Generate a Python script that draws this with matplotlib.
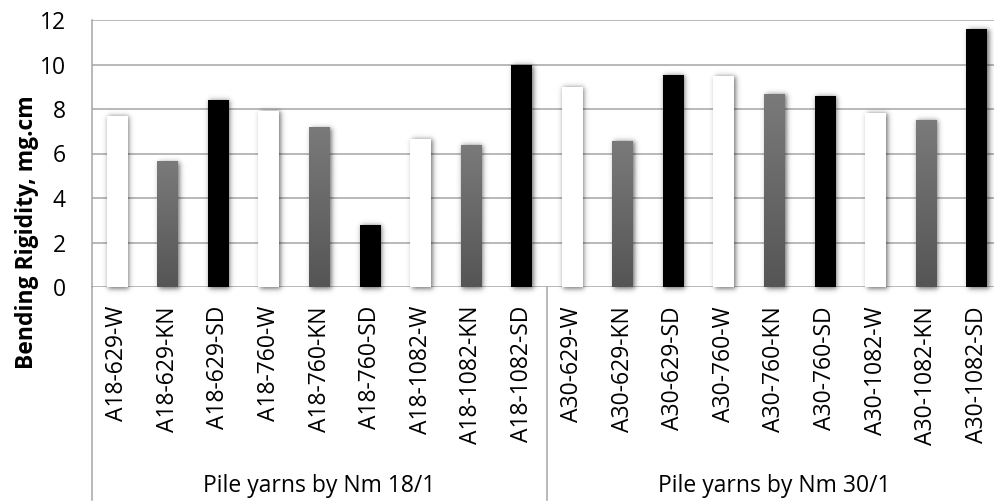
import numpy as np
import matplotlib
matplotlib.use("Agg")
import matplotlib.pyplot as plt
from matplotlib.patches import Rectangle
from matplotlib.colors import LinearSegmentedColormap
import matplotlib.transforms as mtrans

categories = ["A18-629-W", "A18-629-KN", "A18-629-SD",
              "A18-760-W", "A18-760-KN", "A18-760-SD",
              "A18-1082-W", "A18-1082-KN", "A18-1082-SD",
              "A30-629-W", "A30-629-KN", "A30-629-SD",
              "A30-760-W", "A30-760-KN", "A30-760-SD",
              "A30-1082-W", "A30-1082-KN", "A30-1082-SD"]
values = [7.7, 5.62, 8.4, 7.9, 7.15, 2.78, 6.65, 6.38, 10.0,
          8.97, 6.56, 9.51, 9.48, 8.67, 8.57, 7.8, 7.5, 11.6]
groups = ["Pile yarns by Nm 18/1", "Pile yarns by Nm 30/1"]
group_size = 9
y_ticks = [0, 2, 4, 6, 8, 10, 12]
y_label = "Bending Rigidity, mg.cm"

FONT = "Open Sans"
FS = 16.5
W, H = 994, 503
fig = plt.figure(figsize=(W / 100, H / 100), dpi=100)
left_px, right_px, top_px, bot_px = 92, 1002, 20, 287
ax = fig.add_axes([left_px / W, 1 - bot_px / H, (right_px - left_px) / W, (bot_px - top_px) / H])

n = len(categories)
px_x = n / (right_px - left_px)   # data units per pixel in x
px_y = 12 / (bot_px - top_px)

for s in ["top", "right", "bottom"]:
    ax.spines[s].set_visible(False)
ax.spines["left"].set_color("#a6a6a6")
ax.spines["left"].set_linewidth(1.1)
ax.set_yticks(y_ticks)
ax.set_yticklabels([str(t) for t in y_ticks], fontsize=FS, family=FONT)
ax.tick_params(axis="y", length=0, pad=19)
ax.set_xticks([])
ax.yaxis.grid(True, color="#a6a6a6", linewidth=1.1)
ax.set_axisbelow(True)

bw = 0.415
grad = np.linspace(0, 1, 256).reshape(-1, 1)
cmap = LinearSegmentedColormap.from_list("g", ["#555555", "#7a7a7a"])
blur = 3.0      # px
pad = 10        # px
for i, v in enumerate(values):
    kind = categories[i].split("-")[-1]
    x0 = i - bw / 2
    # soft blurred shadow, shifted right/down
    sx0 = x0 + 1.5 * px_x
    sx1 = x0 + bw + 1.5 * px_x
    sy0 = -2.5 * px_y
    sy1 = v - 1.0 * px_y
    ex0, ex1 = sx0 - pad * px_x, sx1 + pad * px_x
    ey0, ey1 = sy0 - pad * px_y, sy1 + pad * px_y
    xs = np.linspace(ex0, ex1, 80)
    ys = np.linspace(ey0, ey1, 400)
    fx = 0.5 * (np.tanh((xs - sx0) / (blur * px_x)) - np.tanh((xs - sx1) / (blur * px_x)))
    fy = 0.5 * (np.tanh((ys - sy0) / (blur * px_y)) - np.tanh((ys - sy1) / (blur * px_y)))
    alpha = 0.55 * np.outer(fy, fx)
    rgba = np.zeros((len(ys), len(xs), 4))
    rgba[..., 3] = alpha
    ax.imshow(rgba, extent=[ex0, ex1, ey0, ey1], origin="lower", aspect="auto",
              zorder=2, interpolation="bilinear", clip_on=False)
    if kind == "W":
        ax.add_patch(Rectangle((x0, 0), bw, v, facecolor="#ffffff", edgecolor="none", zorder=3))
    elif kind == "SD":
        ax.add_patch(Rectangle((x0, 0), bw, v, facecolor="#000000", edgecolor="none", zorder=3))
    else:
        ax.imshow(grad, extent=[x0, x0 + bw, 0, v], origin="lower", aspect="auto",
                  cmap=cmap, zorder=3, interpolation="bilinear")
ax.set_xlim(-0.5, n - 0.5)
ax.set_ylim(0, 12)

# category labels
for i, c in enumerate(categories):
    ax.text(i, -19 * px_y, c, rotation=90, ha="center", va="top",
            fontsize=FS, family=FONT, color="black")

# group separators
trans = mtrans.blended_transform_factory(ax.transData, ax.transAxes)
ybot = -(500 - bot_px) / (bot_px - top_px)
for gx in [-0.5, group_size - 0.5, n - 0.5]:
    ax.plot([gx, gx], [0, ybot], transform=trans, color="#a6a6a6", lw=1.1, clip_on=False)
for g, name in enumerate(groups):
    cx = g * group_size + (group_size - 1) / 2
    ax.text(cx, -(491.5 - bot_px) * px_y, name, ha="center", va="baseline",
            fontsize=FS, family=FONT)

fig.text(27 / W, 1 - 232 / H, y_label, rotation=90, ha="center", va="center",
         fontsize=FS, family=FONT, fontweight="bold")

fig.savefig("out.png", dpi=100)
